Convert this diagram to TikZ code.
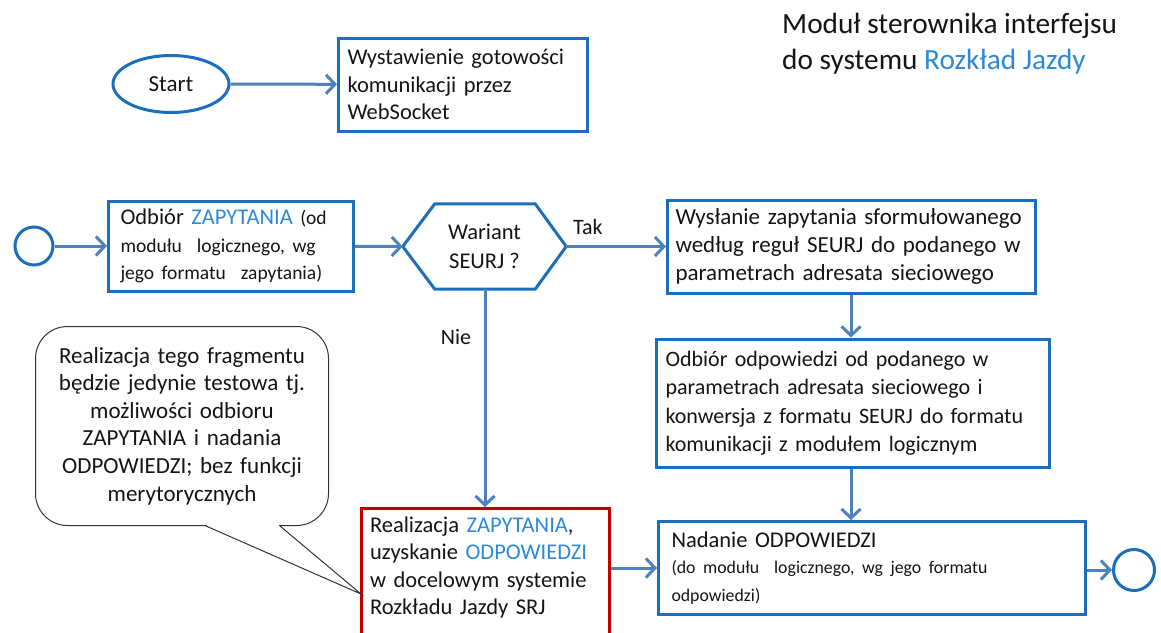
\documentclass[tikz,border=0pt]{standalone}
\usepackage{fontspec}
\setmainfont{Carlito}
\usetikzlibrary{arrows.meta,calc,shapes.geometric}
\definecolor{boxblue}{RGB}{28,110,188}
\definecolor{arrowblue}{RGB}{79,129,189}
\definecolor{hlblue}{RGB}{45,137,215}
\definecolor{boxred}{RGB}{192,0,0}
\definecolor{ink}{RGB}{20,20,20}
\newcommand{\hl}[1]{\textcolor{hlblue}{#1}}
\newcommand{\fsz}[2]{\fontsize{#1}{#2}\selectfont}

\begin{document}
\begin{tikzpicture}[x=1pt,y=-1pt,
  every node/.style={text=ink},
  box/.style={draw=boxblue, line width=3pt, align=left, inner xsep=9pt,
    inner ysep=0pt, font=\fsz{22.5}{27.5}},
  redbox/.style={box, draw=boxred},
  term/.style={draw=boxblue, line width=3pt, inner sep=0pt},
  arr/.style={draw=arrowblue, line width=3pt,
    -{Straight Barb[length=9pt,width=19pt,line width=3pt]}},
  calloutline/.style={draw=black!80, line width=1pt},
  lbl/.style={font=\fsz{22}{26}, inner sep=0pt}]
\useasboundingbox (0,0) rectangle (1161,632);
\clip (0,0) rectangle (1161,632);

% title
\node[anchor=north west, align=left, font=\fsz{29.3}{36}, inner sep=0pt]
  (title) at (782,13) {Moduł sterownika interfejsu\\do systemu \hl{Rozkład Jazdy}};

% start section
\node[term, ellipse, minimum width=116, minimum height=57] (start) at (171,84)
  {\fsz{23}{27}Start};
\node[box, minimum width=249, minimum height=93, text width=231] (ready)
  at (463,84.5) {Wystawienie gotowości\\komunikacji przez\\WebSocket};
\draw[arr] (start) -- (ready);

% main row
\node[term, circle, minimum size=38] (in) at (34,246) {};
\node[box, inner xsep=12pt, minimum width=243, minimum height=90, text width=221] (recv)
  at (231,246) {Odbiór \hl{ZAPYTANIA} {\fsz{19.5}{26}(od}\\
  {\fsz{19.5}{26}modułu\ \ logicznego, wg}\\{\fsz{19.5}{26}jego formatu\ \ zapytania)}};
\node[minimum width=163, minimum height=85, inner sep=0pt, align=center,
  font=\fsz{22.5}{29}] (dec) at (484.5,246.5) {Wariant\\SEURJ ?};
\draw[boxblue, line width=3pt, line join=miter]
  (dec.west) -- ($(dec.north west)+(32,0)$) -- ($(dec.north east)+(-31,0)$)
  -- (dec.east) -- ($(dec.south east)+(-31,0)$) -- ($(dec.south west)+(32,0)$)
  -- cycle;
\node[box, font=\fsz{23}{28}, inner xsep=8pt, minimum width=368, minimum height=93,
  text width=352] (send)
  at (851.5,246.5) {Wysłanie zapytania sformułowanego\\według reguł SEURJ do podanego w\\parametrach adresata sieciowego};
\draw[arr] (in) -- (recv);
\draw[arr] (recv) -- (dec.west);
\draw[arr] (dec.east) -- (send);
\node[lbl, anchor=south west] (tak) at (573,235) {Tak};

% right column
\node[box, font=\fsz{22}{28.5}, minimum width=393, minimum height=128, text width=375] (conv)
  at (853,403) {Odbiór odpowiedzi od podanego w\\parametrach adresata sieciowego i\\konwersja z formatu SEURJ do formatu\\komunikacji z modułem logicznym};
\node[box, inner xsep=13pt, minimum width=427, minimum height=93, text width=401] (reply)
  at (872,568) {Nadanie ODPOWIEDZI\\[-1pt]{\fsz{17.8}{23}(do modułu\ \ logicznego, wg jego formatu}\\{\fsz{17.8}{23}odpowiedzi)}};
\draw[arr] (send.south -| 851,0) -- (conv.north -| 851,0);
\draw[arr] (conv.south -| 851,0) -- (reply.north -| 851,0);
\node[term, circle, minimum size=41] (out) at (1134,570) {};
\draw[arr] (reply.east |- out.west) -- (out.west);

% "Nie" branch
\node[redbox, anchor=north, minimum width=248, text width=230] (real)
  at (485,507) {\parbox[c][138pt][t]{230pt}{\vspace{8pt}Realizacja \hl{ZAPYTANIA},\\uzyskanie \hl{ODPOWIEDZI}\\w docelowym systemie\\Rozkładu Jazdy SRJ}};
\draw[arr] (dec.south -| real.north) -- (real.north);
\node[lbl, anchor=center] (nie) at (456,337) {Nie};
\draw[arr] (real.east |- reply.west) -- (reply.west);

% remark callout
\node[draw=black!80, line width=1pt, rounded corners=32pt, minimum width=293,
  minimum height=199, align=center, text width=285, inner sep=0pt,
  font=\fsz{23}{27.6}] (note) at (182,426)
  {Realizacja tego fragmentu\\będzie jedynie testowa tj.\\możliwości odbioru\\ZAPYTANIA i nadania\\ODPOWIEDZI; bez funkcji\\merytorycznych};
\coordinate (tip) at ($(real.north west)+(1.5,87)$);
\coordinate (tailL) at ($(note.south west)+(171,0)$);
\coordinate (tailR) at ($(note.south west)+(245,0)$);
\fill[white] ($(tailL)+(0.6,-1)$) rectangle ($(tailR)+(-0.6,1)$);
\draw[calloutline] (tailL) -- (tip) -- (tailR);
\end{tikzpicture}
\end{document}
